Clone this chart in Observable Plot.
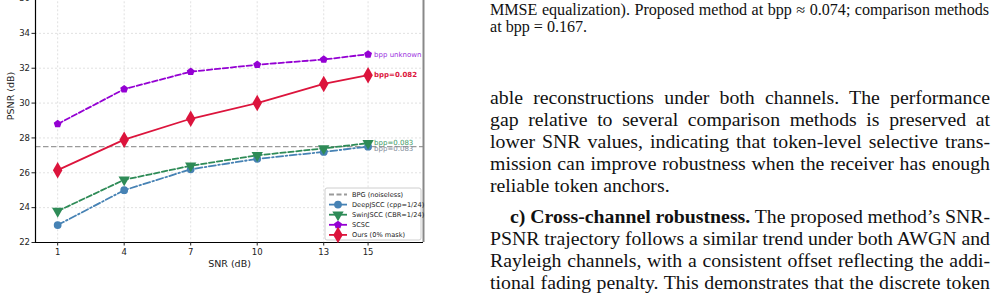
<!DOCTYPE html>
<html><head><meta charset="utf-8">
<script src="https://cdn.jsdelivr.net/npm/d3@7"></script>
<script src="https://cdn.jsdelivr.net/npm/@observablehq/plot@0.6"></script>
<style>
html,body{margin:0;padding:0;background:#fff;width:998px;height:300px;overflow:hidden;position:relative}
#chart{position:absolute;left:0;top:-20px}
.txt{position:absolute;left:490px;width:500px;font-family:"Liberation Serif","Times New Roman",serif;color:#111}
.cap{font-size:16.1px;line-height:17px;width:499px}
.body{font-size:19.8px;line-height:22px}
.j{text-align:justify;text-align-last:justify;white-space:nowrap}
.l{text-align:left}
.ind{text-indent:20px}
</style></head>
<body>
<div id="chart"></div>
<div class="txt cap" style="top:1px">
  <div class="j">MMSE equalization). Proposed method at bpp &#8776; 0.074; comparison methods</div>
  <div class="l">at bpp = 0.167.</div>
</div>
<div class="txt body" style="top:86px">
  <div class="j">able reconstructions under both channels. The performance</div>
  <div class="j">gap relative to several comparison methods is preserved at</div>
  <div class="j">lower SNR values, indicating that token-level selective trans-</div>
  <div class="j">mission can improve robustness when the receiver has enough</div>
  <div class="l">reliable token anchors.</div>
</div>
<div class="txt body" style="top:205px">
  <div class="j ind"><b>c) Cross-channel robustness.</b> The proposed method&#8217;s SNR-</div>
  <div class="j">PSNR trajectory follows a similar trend under both AWGN and</div>
  <div class="j">Rayleigh channels, with a consistent offset reflecting the addi-</div>
  <div class="j">tional fading penalty. This demonstrates that the discrete token</div>
</div>
<script>
// fit justified lines that are naturally wider than the column
document.querySelectorAll(".j").forEach(el => {
  const avail = el.clientWidth - (el.classList.contains("ind") ? 20 : 0);
  const span = document.createElement("span");
  while (el.firstChild) span.appendChild(el.firstChild);
  el.appendChild(span);
  const w = span.getBoundingClientRect().width;
  if (w > avail) {
    const spaces = (span.textContent.match(/ /g) || []).length;
    el.style.wordSpacing = (-(w - avail) / spaces - 0.05) + "px";
  }
});

// ---- data ----
const snr = [1, 4, 7, 10, 13, 15];
const deepjscc = [23.0, 25.0, 26.2, 26.8, 27.2, 27.5];
const swinjscc = [23.8, 25.6, 26.4, 27.0, 27.4, 27.7];
const scsc = [28.8, 30.8, 31.8, 32.2, 32.5, 32.8];
const ours = [26.15, 27.9, 29.1, 30.0, 31.1, 31.6];
const bpgPsnr = 27.5;
const seriesNames = ["BPG (noiseless)", "DeepJSCC (cpp=1/24)", "SwinJSCC (CBR=1/24)", "SCSC", "Ours (0% mask)"];
const endLabels = ["bpp=0.083", "bpp=0.083", "bpp unknown", "bpp=0.082"];
const xTicks = [1, 4, 7, 10, 13, 15];
const yTicks = [22, 24, 26, 28, 30, 32, 34, 36];

// ---- symbols ----
const sqrt3 = Math.sqrt(3);
const triDown = {draw(ctx, size) {
  const y = -Math.sqrt(size / (sqrt3 * 3));
  ctx.moveTo(0, -y * 2); ctx.lineTo(-sqrt3 * y, y); ctx.lineTo(sqrt3 * y, y); ctx.closePath();
}};
const pentagon = {draw(ctx, size) {
  const R = Math.sqrt(size / 2.378);
  for (let i = 0; i < 5; i++) {
    const a = -Math.PI / 2 + i * 2 * Math.PI / 5;
    const px = R * Math.cos(a), py = R * Math.sin(a);
    if (i === 0) ctx.moveTo(px, py); else ctx.lineTo(px, py);
  }
  ctx.closePath();
}};

const series = [
  {name: seriesNames[1], vals: deepjscc, color: "#4682b4", dash: "7,2.5,1.6,2.5", symbol: "circle", r: 3.9, label: endLabels[0], weight: "normal", lcolor: "#7f8c9a"},
  {name: seriesNames[2], vals: swinjscc, color: "#2e8b57", dash: "5.5,2.5", symbol: triDown, r: 4.2, label: endLabels[1], weight: "normal", lcolor: "#3c9a66"},
  {name: seriesNames[3], vals: scsc, color: "#9400d3", dash: "5.5,2.5", symbol: pentagon, r: 3.6, label: endLabels[2], weight: "normal", lcolor: "#9b30e0"},
  {name: seriesNames[4], vals: ours, color: "#dc143c", dash: null, symbol: "diamond", r: 5.0, label: endLabels[3], weight: "bold", lcolor: "#dc143c"}
];
const rows = series.flatMap(s => s.vals.map((v, i) => ({name: s.name, snr: snr[i], psnr: v})));

const marks = [
  Plot.ruleX(xTicks, {stroke: "#d9d9d9", strokeDasharray: "2,2", strokeWidth: 0.8}),
  Plot.ruleY(yTicks, {stroke: "#d9d9d9", strokeDasharray: "2,2", strokeWidth: 0.8}),
  Plot.ruleY([bpgPsnr], {stroke: "#9a9a9a", strokeDasharray: "5.5,2.5", strokeWidth: 1.3}),
];
for (const s of series) {
  const d = rows.filter(r => r.name === s.name);
  marks.push(Plot.line(d, {x: "snr", y: "psnr", stroke: s.color, strokeWidth: 1.8, strokeDasharray: s.dash || undefined}));
  marks.push(Plot.dot(d, {x: "snr", y: "psnr", symbol: () => s.symbol, fill: s.color, r: s.r, stroke: "none"}));
}
// end-of-line labels
const lastRows = series.map(s => ({snr: snr[snr.length - 1], psnr: s.vals[s.vals.length - 1], label: s.label, color: s.lcolor, weight: s.weight, name: s.name}));
for (const L of lastRows) {
  marks.push(Plot.text([L], {x: "snr", y: "psnr", text: "label", fill: L.color, fontWeight: L.weight, fontSize: 7, textAnchor: "start", dx: 6, dy: L.name === seriesNames[1] ? 2 : 0}));
}
marks.push(
  Plot.ruleX([0], {stroke: "#000", strokeWidth: 1.2}),
  Plot.ruleY([22], {stroke: "#000", strokeWidth: 1.2}),
  Plot.ruleX([17.5], {stroke: "#888", strokeWidth: 2}),
  Plot.axisY({ticks: yTicks, tickSize: 3.5, tickPadding: 2, fontSize: 8.5, label: null, color: "#222"}),
  Plot.axisX({ticks: xTicks, tickSize: 3.5, tickPadding: 3, fontSize: 8.5, label: null, color: "#222"}),
  Plot.text(["SNR (dB)"], {frameAnchor: "bottom", dy: 24, fontSize: 9.5, fill: "#222"}),
  Plot.text(["PSNR (dB)"], {frameAnchor: "left", dx: -25, dy: 4, rotate: -90, fontSize: 9.5, fill: "#222"})
);

const chart = Plot.plot({
  width: 470, height: 320,
  marginLeft: 35, marginRight: 47, marginTop: 9.3, marginBottom: 58,
  x: {domain: [0, 17.5]},
  y: {domain: [22, 36.5]},
  style: {fontFamily: "'DejaVu Sans', sans-serif", background: "transparent", overflow: "visible"},
  marks
});
document.getElementById("chart").appendChild(chart);

// ---- legend (inside plot, lower right) ----
const svg = d3.select(chart);
const lg = svg.append("g").attr("transform", "translate(325,208)")
  .attr("font-family", "'DejaVu Sans', sans-serif").attr("text-anchor", "start");
lg.append("rect").attr("x", 0).attr("y", 0).attr("width", 96).attr("height", 52).attr("rx", 2)
  .attr("fill", "#fff").attr("fill-opacity", 0.85).attr("stroke", "#c8c8c8").attr("stroke-width", 0.9);
const legendItems = [
  {name: seriesNames[0], color: "#9a9a9a", dash: "5,2.5", symbol: null},
  ...series.map(s => ({name: s.name, color: s.color, dash: null, symbol: s.symbol, r: s.r}))
];
legendItems.forEach((it, i) => {
  const cy = 6.5 + i * 10.1;
  lg.append("line").attr("x1", 4).attr("x2", 22).attr("y1", cy).attr("y2", cy)
    .attr("stroke", it.color).attr("stroke-width", 1.8).attr("stroke-dasharray", it.dash);
  if (it.symbol) {
    const type = it.symbol === "circle" ? d3.symbolCircle : it.symbol === "diamond" ? d3.symbolDiamond : it.symbol;
    lg.append("path").attr("transform", `translate(13,${cy})`)
      .attr("d", d3.symbol(type, it.r * it.r * Math.PI)()).attr("fill", it.color);
  }
  lg.append("text").attr("x", 27).attr("y", cy).attr("dy", "0.35em").attr("font-size", 6.6)
    .attr("text-anchor", "start").attr("fill", "#222").text(it.name);
});
</script>
</body></html>
